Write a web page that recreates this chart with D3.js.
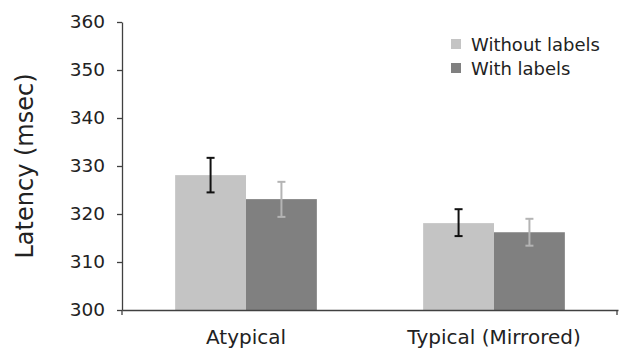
<!DOCTYPE html>
<html>
<head>
<meta charset="utf-8">
<script src="https://cdn.jsdelivr.net/npm/d3@7"></script>
<style>
  body { margin: 0; background: #fff; }
  text { font-family: "DejaVu Sans", Verdana, sans-serif; fill: #222; }
</style>
</head>
<body>
<svg id="chart"></svg>
<script>
// chart values
const categories = ["Atypical", "Typical (Mirrored)"];
const seriesNames = ["Without labels", "With labels"];
const means = [[328.1, 323.1], [318.1, 316.2]];
const errLow = [[324.5, 319.4], [315.4, 313.4]];
const errHigh = [[331.7, 326.7], [321.0, 319.0]];
const yTicks = [300, 310, 320, 330, 340, 350, 360];

const width = 620, height = 349;
const margin = { top: 22, right: 2, bottom: 39, left: 122 };
const barColors = ["#c4c4c4", "#808080"];
const errColors = ["#111111", "#b4b4b4"];

const svg = d3.select("#chart").attr("width", width).attr("height", height);

const y = d3.scaleLinear().domain([300, 360]).range([height - margin.bottom, margin.top]);
const x0 = d3.scaleBand().domain(categories).range([margin.left, width - margin.right]).paddingInner(0).paddingOuter(0);
const x1 = d3.scaleBand().domain(seriesNames).range([0, x0.bandwidth()]).paddingOuter(0.75);

// build rows
const rows = [];
categories.forEach((c, i) => {
    seriesNames.forEach((s, j) => {
        rows.push({ cat: c, series: s, j: j, value: means[i][j], lo: errLow[i][j], hi: errHigh[i][j] });
    });
});

// bars
svg.append("g").selectAll("rect")
    .data(rows)
    .enter().append("rect")
    .attr("x", d => x0(d.cat) + x1(d.series))
    .attr("y", d => y(d.value))
    .attr("width", x1.bandwidth())
    .attr("height", d => y(300) - y(d.value))
    .attr("fill", d => barColors[d.j]);

// error bars
const eb = svg.append("g").selectAll("g")
    .data(rows)
    .enter().append("g")
    .attr("stroke", d => errColors[d.j])
    .attr("stroke-width", 2);
const cx = d => x0(d.cat) + x1(d.series) + x1.bandwidth() / 2;
eb.append("line")
    .attr("x1", cx).attr("x2", cx)
    .attr("y1", d => y(d.lo)).attr("y2", d => y(d.hi));
eb.append("line")
    .attr("x1", d => cx(d) - 4).attr("x2", d => cx(d) + 4)
    .attr("y1", d => y(d.hi)).attr("y2", d => y(d.hi));
eb.append("line")
    .attr("x1", d => cx(d) - 4).attr("x2", d => cx(d) + 4)
    .attr("y1", d => y(d.lo)).attr("y2", d => y(d.lo));

// y axis
const yAxis = svg.append("g")
    .attr("transform", `translate(${margin.left},0)`)
    .call(d3.axisLeft(y).tickValues(yTicks).tickSize(5).tickSizeOuter(0).tickPadding(12));
yAxis.selectAll("text").style("font-size", "18.5px").attr("fill", "#222");
yAxis.selectAll("line, path").attr("stroke", "#404040").attr("stroke-width", 1.3);

// x axis
const xAxis = svg.append("g")
    .attr("transform", `translate(0,${y(300)})`)
    .call(d3.axisBottom(x0).tickSize(0).tickSizeOuter(0).tickPadding(20));
xAxis.select(".domain").attr("stroke", "#404040").attr("stroke-width", 1.3);
xAxis.selectAll("text").style("font-size", "20px").attr("fill", "#222");
// boundary ticks at the ends of the x axis
svg.append("g").selectAll("line")
    .data([margin.left, width - margin.right - 1])
    .enter().append("line")
    .attr("x1", d => d).attr("x2", d => d)
    .attr("y1", y(300)).attr("y2", y(300) + 5)
    .attr("stroke", "#404040").attr("stroke-width", 1.3);

// y label
svg.append("text")
    .attr("transform", `translate(33,166) rotate(-90)`)
    .attr("text-anchor", "middle")
    .style("font-size", "24px")
    .text("Latency (msec)");

// legend
const legend = svg.append("g").selectAll("g")
    .data(seriesNames)
    .enter().append("g")
    .attr("transform", (d, i) => `translate(451,${39 + i * 24})`);
legend.append("rect")
    .attr("width", 10).attr("height", 10)
    .attr("fill", (d, i) => barColors[i]);
legend.append("text")
    .attr("x", 20).attr("y", 12)
    .style("font-size", "18px")
    .text(d => d);
</script>
</body>
</html>
